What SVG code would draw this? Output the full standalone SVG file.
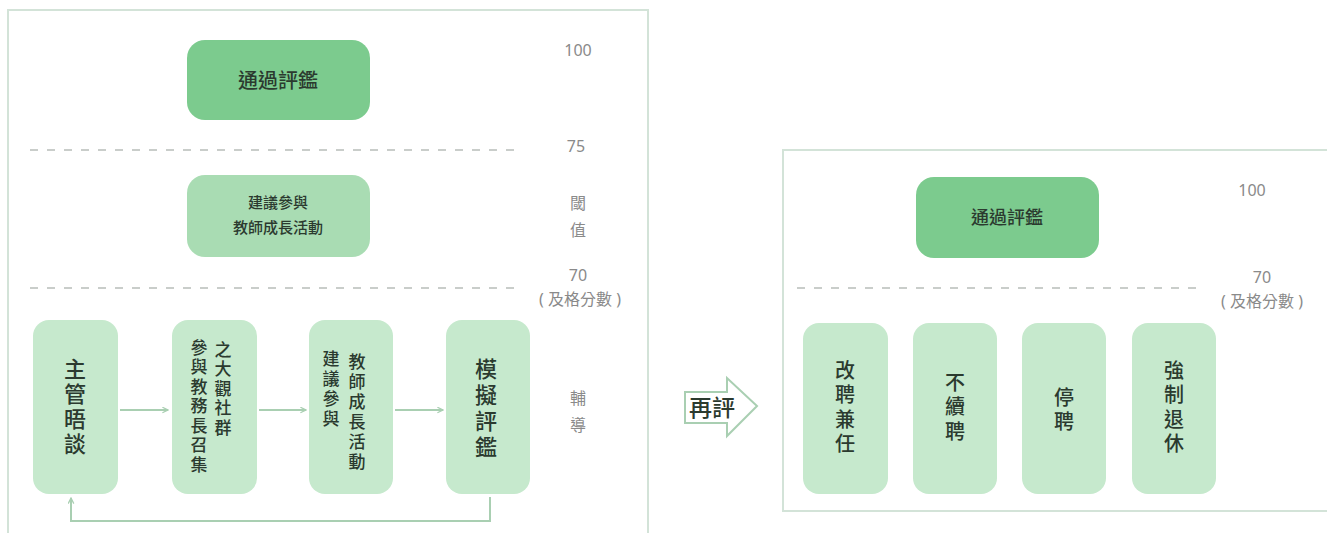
<svg xmlns="http://www.w3.org/2000/svg" width="1327" height="533" viewBox="0 0 1327 533">
<style>
.panel{fill:#ffffff;stroke:#d3e3d8;stroke-width:2}
.dark{fill:#7ccb8e}
.mid{fill:#a9dcb3}
.light{fill:#c6e9cd}
.t{font-family:"Noto Sans CJK TC","Noto Sans CJK SC",sans-serif;fill:#2b3a2f;font-weight:500}
.v{writing-mode:vertical-rl;text-orientation:upright}
.lab{font-family:"Noto Sans","Noto Sans CJK TC",sans-serif;fill:#8a8a8a;font-size:16px}
.dash{stroke:#b8bdb9;stroke-width:1.5;stroke-dasharray:8 9;fill:none}
.con{stroke:#a9cfb2;stroke-width:2;fill:none}
</style>
<defs>
<marker id="ah" viewBox="0 0 10 10" refX="9" refY="5" markerWidth="7" markerHeight="7" orient="auto-start-reverse" markerUnits="userSpaceOnUse">
<path d="M1,1 L9,5 L1,9" fill="none" stroke="#a9cfb2" stroke-width="1.8"/>
</marker>
</defs>
<rect width="1327" height="533" fill="#ffffff"/>
<rect class="panel" x="8" y="10" width="640" height="540"/>
<rect class="panel" x="783" y="150" width="560" height="361"/>

<g id="labels-left">
<text class="lab" x="578" y="56" text-anchor="middle">100</text>
<text class="lab" x="576" y="152" text-anchor="middle">75</text>
<text class="lab" x="578" y="209" text-anchor="middle">閾</text>
<text class="lab" x="578" y="236" text-anchor="middle">值</text>
<text class="lab" x="578" y="281" text-anchor="middle">70</text>
<text class="lab" x="580" y="305" text-anchor="middle">( 及格分數 )</text>
<text class="lab" x="578" y="404" text-anchor="middle">輔</text>
<text class="lab" x="578" y="431" text-anchor="middle">導</text>
<line class="dash" x1="30" y1="150" x2="516" y2="150"/>
<line class="dash" x1="30" y1="288" x2="516" y2="288"/>
</g>

<g id="n-pass1">
<rect class="dark" x="187" y="40" width="183" height="80" rx="18"/>
<text class="t" x="278" y="88" font-size="20" text-anchor="middle">通過評鑑</text>
</g>
<g id="n-suggest">
<rect class="mid" x="187" y="175" width="183" height="82" rx="18"/>
<text class="t" x="278" y="208" font-size="15" text-anchor="middle">建議參與</text>
<text class="t" x="278" y="233" font-size="15" text-anchor="middle">教師成長活動</text>
</g>
<g id="n-interview">
<rect class="light" x="33" y="320" width="85" height="174" rx="16"/>
<text class="t v" x="75" y="358" font-size="22" letter-spacing="3">主管晤談</text>
</g>
<g id="n-community">
<rect class="light" x="172" y="320" width="85" height="174" rx="16"/>
<text class="t v" x="199" y="339" font-size="17" letter-spacing="2.5">參與教務長召集</text>
<text class="t v" x="223" y="341" font-size="17" letter-spacing="2.5">之大觀社群</text>
</g>
<g id="n-growth">
<rect class="light" x="309" y="320" width="84" height="174" rx="16"/>
<text class="t v" x="331" y="350" font-size="17" letter-spacing="3">建議參與</text>
<text class="t v" x="357" y="353" font-size="17" letter-spacing="3">教師成長活動</text>
</g>
<g id="n-mock">
<rect class="light" x="446" y="320" width="84" height="174" rx="16"/>
<text class="t v" x="486" y="358" font-size="22" letter-spacing="4">模擬評鑑</text>
</g>

<g id="connectors">
<line class="con" x1="120" y1="410" x2="168" y2="410" marker-end="url(#ah)"/>
<line class="con" x1="259" y1="410" x2="306" y2="410" marker-end="url(#ah)"/>
<line class="con" x1="395" y1="410" x2="443" y2="410" marker-end="url(#ah)"/>
<polyline class="con" points="490,497 490,521 71,521 71,498" marker-end="url(#ah)"/>
</g>

<g id="n-reeval">
<path d="M685,392 H727 V378 L757,406 L727,436 V423 H685 Z" fill="#ffffff" stroke="#a9cfb2" stroke-width="2"/>
<text class="t" x="689" y="416" font-size="23" font-weight="700" fill="#222">再評</text>
</g>

<g id="labels-right">
<text class="lab" x="1252" y="196" text-anchor="middle">100</text>
<text class="lab" x="1262" y="283" text-anchor="middle">70</text>
<text class="lab" x="1262" y="307" text-anchor="middle">( 及格分數 )</text>
<line class="dash" x1="797" y1="288" x2="1203" y2="288"/>
</g>

<g id="n-pass2">
<rect class="dark" x="916" y="177" width="183" height="81" rx="18"/>
<text class="t" x="1007" y="224" font-size="18" text-anchor="middle">通過評鑑</text>
</g>
<g id="n-parttime">
<rect class="light" x="803" y="323" width="85" height="171" rx="16"/>
<text class="t v" x="845" y="360" font-size="20" letter-spacing="4.5">改聘兼任</text>
</g>
<g id="n-norenew">
<rect class="light" x="913" y="323" width="84" height="171" rx="16"/>
<text class="t v" x="955" y="372" font-size="20" letter-spacing="4.5">不續聘</text>
</g>
<g id="n-suspend">
<rect class="light" x="1022" y="323" width="84" height="171" rx="16"/>
<text class="t v" x="1064" y="387" font-size="20" letter-spacing="4.5">停聘</text>
</g>
<g id="n-retire">
<rect class="light" x="1132" y="323" width="84" height="171" rx="16"/>
<text class="t v" x="1174" y="360" font-size="20" letter-spacing="4.5">強制退休</text>
</g>
</svg>
